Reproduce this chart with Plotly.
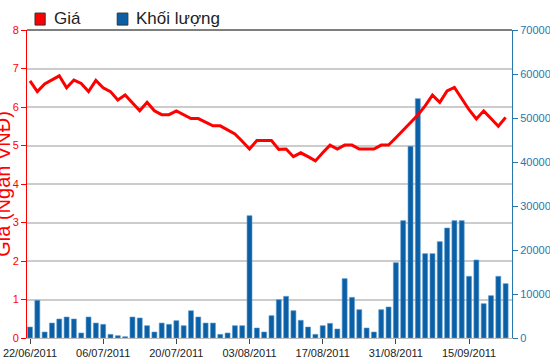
import plotly.graph_objects as go

dates = ["22/06/2011", "23/06/2011", "24/06/2011", "27/06/2011", "28/06/2011", "29/06/2011", "30/06/2011",
         "01/07/2011", "04/07/2011", "05/07/2011", "06/07/2011", "07/07/2011", "08/07/2011", "11/07/2011",
         "12/07/2011", "13/07/2011", "14/07/2011", "15/07/2011", "18/07/2011", "19/07/2011", "20/07/2011",
         "21/07/2011", "22/07/2011", "25/07/2011", "26/07/2011", "27/07/2011", "28/07/2011", "29/07/2011",
         "01/08/2011", "02/08/2011", "03/08/2011", "04/08/2011", "05/08/2011", "08/08/2011", "09/08/2011",
         "10/08/2011", "11/08/2011", "12/08/2011", "15/08/2011", "16/08/2011", "17/08/2011", "18/08/2011",
         "19/08/2011", "22/08/2011", "23/08/2011", "24/08/2011", "25/08/2011", "26/08/2011", "29/08/2011",
         "30/08/2011", "31/08/2011", "01/09/2011", "05/09/2011", "06/09/2011", "07/09/2011", "08/09/2011",
         "09/09/2011", "12/09/2011", "13/09/2011", "14/09/2011", "15/09/2011", "16/09/2011", "19/09/2011",
         "20/09/2011", "21/09/2011", "22/09/2011"]

price = [6.68, 6.40, 6.60, 6.70, 6.81, 6.50, 6.70, 6.61, 6.40, 6.69,
         6.50, 6.40, 6.18, 6.31, 6.10, 5.90, 6.12, 5.90, 5.80, 5.80,
         5.90, 5.80, 5.70, 5.70, 5.60, 5.51, 5.51, 5.40, 5.30, 5.11,
         4.91, 5.13, 5.13, 5.13, 4.90, 4.91, 4.71, 4.81, 4.71, 4.60,
         4.81, 5.01, 4.91, 5.01, 5.01, 4.91, 4.91, 4.91, 5.01, 5.01,
         5.20, 5.39, 5.58, 5.79, 6.03, 6.31, 6.12, 6.42, 6.51, 6.22,
         5.93, 5.69, 5.90, 5.70, 5.50, 5.73]

volume = [2500, 8560, 1360, 3400, 4320, 4770, 4320, 1140, 4770, 3400,
          3100, 830, 530, 300, 4770, 4550, 2800, 1360, 3400, 3100,
          3940, 2800, 6200, 4770, 3400, 3400, 830, 1140, 2800, 2800,
          27800, 2270, 1360, 5080, 8710, 9470, 6210, 4020, 2500, 830,
          2800, 3330, 2050, 13490, 9240, 6440, 2270, 1360, 6440, 7050,
          17120, 26670, 43560, 54400, 19170, 19170, 21900, 25000, 26670, 26670,
          14020, 17730, 7800, 9620, 14020, 12350]

tick_labels = ["22/06/2011", "06/07/2011", "20/07/2011", "03/08/2011",
               "17/08/2011", "31/08/2011", "15/09/2011"]

series_names = ["Giá", "Khối lượng"]
price_title = "Giá (Ngàn VNĐ)"

RED = "#ff0000"
BLUE = "#0b5fa5"
AXBLUE = "#2677ad"
FONT = "Liberation Sans, Arial, sans-serif"

fig = go.Figure()
fig.add_trace(go.Bar(x=dates, y=volume, name=series_names[1], yaxis="y",
                     marker=dict(color=BLUE, line=dict(color="#5a9ad0", width=0.6)),
                     width=0.68, showlegend=False))
fig.add_trace(go.Scatter(x=dates, y=price, name=series_names[0], yaxis="y2", mode="lines",
                         line=dict(color=RED, width=3), showlegend=False))

fig.update_layout(
    width=550, height=364,
    margin=dict(l=27, r=38, t=30, b=26, autoexpand=False),
    paper_bgcolor="white", plot_bgcolor="white",
    font=dict(family=FONT, size=11),
    bargap=0.3,
    xaxis=dict(type="category", categoryorder="array", categoryarray=dates, automargin=False,
               range=[-0.41, 65.87], tickmode="array", tickvals=tick_labels, ticktext=tick_labels,
               ticks="outside", ticklen=5, tickcolor="#444", tickwidth=1,
               tickfont=dict(color="#222", size=11, family=FONT),
               showline=True, linecolor="#bbbbbb", linewidth=1, showgrid=False, zeroline=False),
    yaxis=dict(side="right", range=[0, 70000], dtick=10000, showgrid=False, zeroline=False,
               automargin=False, tickformat="d",
               showline=True, linecolor=AXBLUE, linewidth=1, ticks="outside", ticklen=5,
               tickcolor=AXBLUE, tickfont=dict(color=AXBLUE, size=11, family=FONT)),
    yaxis2=dict(side="left", overlaying="y", range=[0, 8], dtick=1, showgrid=True,
                automargin=False,
                gridcolor="#cccccc", gridwidth=1.5, zeroline=False,
                showline=True, linecolor=RED, linewidth=1, ticks="outside", ticklen=5,
                tickcolor=RED, tickfont=dict(color=RED, size=11, family=FONT)),
    shapes=[
        dict(type="line", xref="paper", yref="paper", x0=0, x1=1, y0=1, y1=1,
             line=dict(color="black", width=1)),
        dict(type="rect", xref="paper", yref="paper", x0=0.0165, x1=0.0375, y0=1.016, y1=1.055,
             fillcolor=RED, line=dict(color="#333", width=1)),
        dict(type="rect", xref="paper", yref="paper", x0=0.186, x1=0.208, y0=1.016, y1=1.055,
             fillcolor=BLUE, line=dict(color="#333", width=1)),
    ],
    annotations=[
        dict(text=series_names[0], xref="paper", yref="paper", x=0.052, y=1.036,
             xanchor="left", yanchor="middle", showarrow=False,
             font=dict(size=17, color="#222", family=FONT)),
        dict(text=series_names[1], xref="paper", yref="paper", x=0.221, y=1.036,
             xanchor="left", yanchor="middle", showarrow=False,
             font=dict(size=17, color="#222", family=FONT)),
        dict(text=price_title, xref="paper", yref="paper", x=-0.05, y=0.5,
             xanchor="center", yanchor="middle", textangle=-90, showarrow=False,
             font=dict(size=20, color=RED, family=FONT)),
    ],
)

fig.write_html("out.html", config={"displayModeBar": False},
               post_script="document.body.style.margin='0';document.body.style.overflow='hidden';")
